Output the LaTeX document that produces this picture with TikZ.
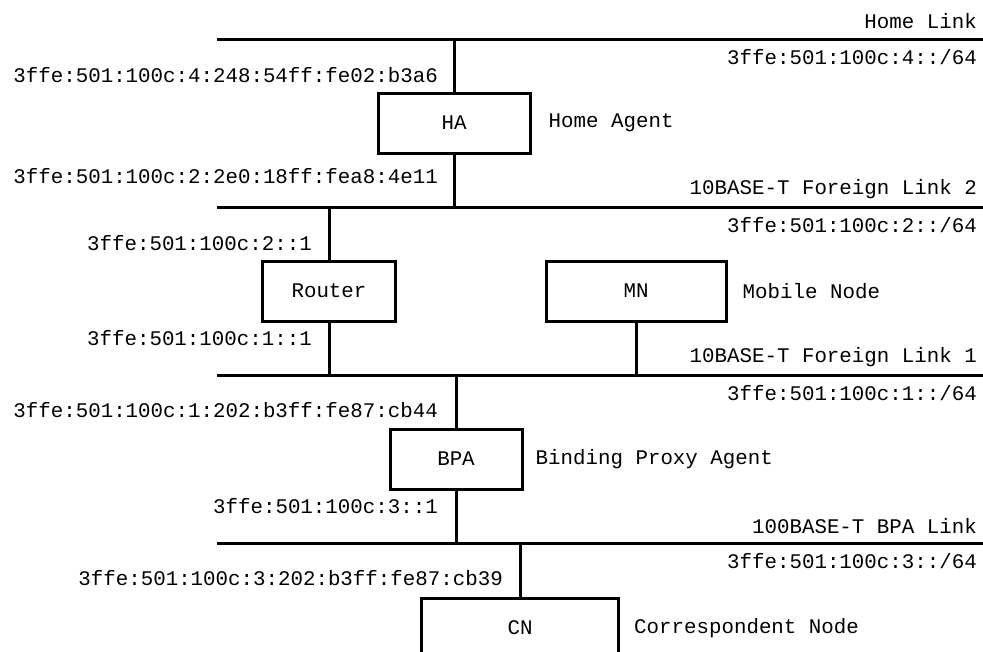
\documentclass[tikz,border=0pt]{standalone}
\usepackage{fontspec}
\setmonofont{Liberation Mono}
\usetikzlibrary{positioning}

\begin{document}
\begin{tikzpicture}[x=1pt,y=-1pt,font=\ttfamily\fontsize{20.8}{25}\selectfont]
\tikzstyle{box}=[draw,line width=3pt,inner sep=0pt,minimum height=60pt]
\tikzstyle{link}=[line width=3pt]
\tikzstyle{addr}=[anchor=east,inner sep=0pt]
\tikzstyle{desc}=[inner sep=0pt]
\useasboundingbox (0,0) rectangle (983,651);
% the four links
\coordinate (home) at (217,39);   \coordinate (home e) at (995,39);
\coordinate (fl2) at (217,207);   \coordinate (fl2 e) at (995,207);
\coordinate (fl1) at (217,375);   \coordinate (fl1 e) at (995,375);
\coordinate (bpal) at (217,543);  \coordinate (bpal e) at (995,543);
\draw [link] (home) -- (home e);
\draw [link] (fl2) -- (fl2 e);
\draw [link] (fl1) -- (fl1 e);
\draw [link] (bpal) -- (bpal e);
\node (homename) [addr] at (977,21) {Home Link};
\node (homepfx) [addr] at (977,57) {3ffe:501:100c:4::/64};
\node (fl2name) [addr] at (977,189) {10BASE-T Foreign Link 2};
\node (fl2pfx) [addr] at (977,225) {3ffe:501:100c:2::/64};
\node (fl1name) [addr] at (977,357) {10BASE-T Foreign Link 1};
\node (fl1pfx) [addr] at (977,393) {3ffe:501:100c:1::/64};
\node (bpalname) [addr] at (977,526) {100BASE-T BPA Link};
\node (bpalpfx) [addr] at (977,561) {3ffe:501:100c:3::/64};
% hosts
\node (ha) [box,minimum width=152pt] at (454,123) {HA};
\node (router) [box,minimum width=133pt] at (329,291) {Router};
\node (mn) [box,minimum width=180pt] at (636,291) {MN};
\node (bpa) [box,minimum width=132pt] at (456,459) {BPA};
\node (cn) [box,minimum width=197pt] at (520,628) {CN};
\node (hadesc) [desc,right=17pt of ha] {Home Agent};
\node (mndesc) [desc,right=15pt of mn] {Mobile Node};
\node (bpadesc) [desc,right=12pt of bpa] {Binding Proxy Agent};
\node (cndesc) [desc,right=14pt of cn] {Correspondent Node};
% interface addresses
\node (haup) [addr] at (438,75) {3ffe:501:100c:4:248:54ff:fe02:b3a6};
\node (hadown) [addr] at (438,176) {3ffe:501:100c:2:2e0:18ff:fea8:4e11};
\node (rup) [addr] at (312,243) {3ffe:501:100c:2::1};
\node (rdown) [addr] at (312,338) {3ffe:501:100c:1::1};
\node (bpaup) [addr] at (438,410) {3ffe:501:100c:1:202:b3ff:fe87:cb44};
\node (bpadown) [addr] at (438,506) {3ffe:501:100c:3::1};
\node (cnup) [addr] at (503,578) {3ffe:501:100c:3:202:b3ff:fe87:cb39};
\draw [link] (ha) -- (ha |- home);
\draw [link] (ha) -- (ha |- fl2);
\draw [link] (router) -- (router |- fl2);
\draw [link] (router) -- (router |- fl1);
\draw [link] (mn) -- (mn |- fl1);
\draw [link] (bpa) -- (bpa |- fl1);
\draw [link] (bpa) -- (bpa |- bpal);
\draw [link] (cn) -- (cn |- bpal);
\end{tikzpicture}
\end{document}
